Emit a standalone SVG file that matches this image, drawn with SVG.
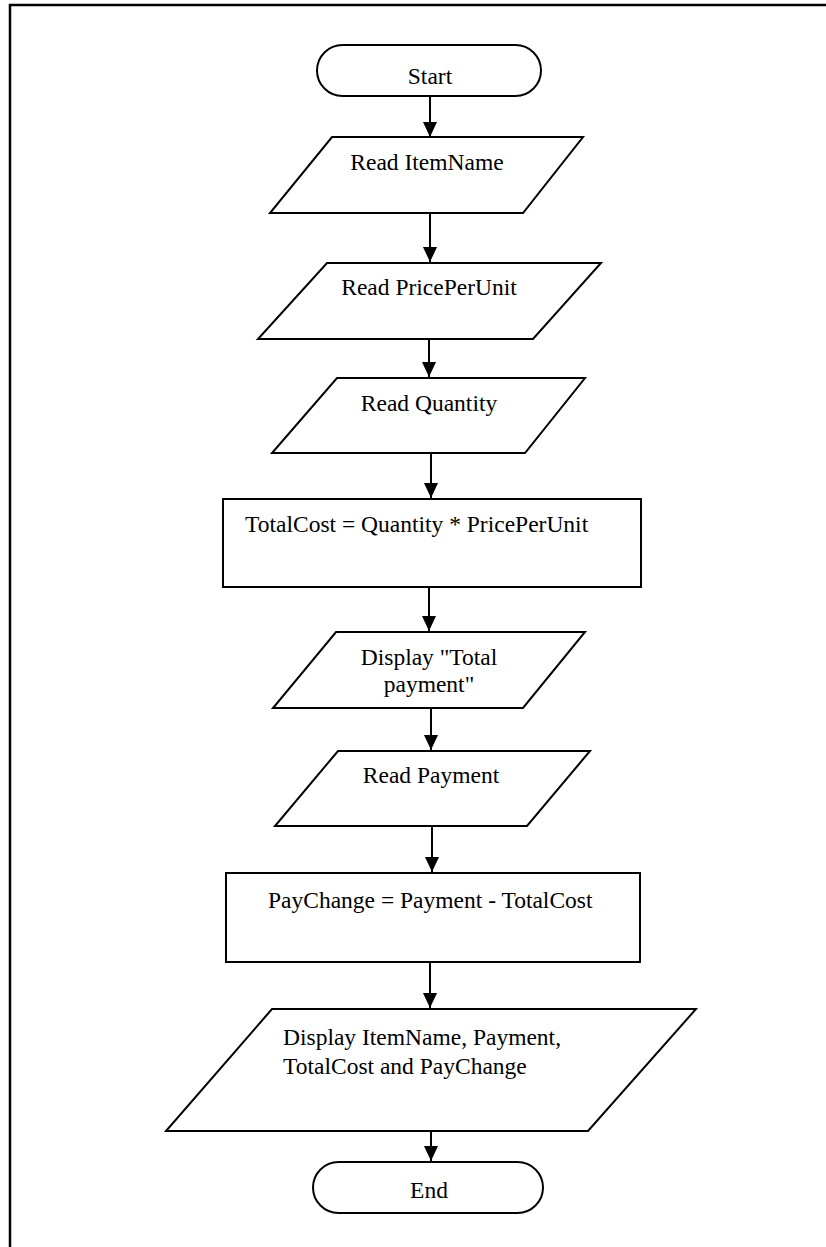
<svg xmlns="http://www.w3.org/2000/svg" width="826" height="1247" viewBox="0 0 826 1247">
<style>
.shape{fill:#fff;stroke:#000;stroke-width:2}
.lbl{font-family:"Liberation Serif","Times New Roman",serif;font-size:23.5px;fill:#000}
.mid{text-anchor:middle}
.conn line{stroke:#000;stroke-width:2}
</style>
<defs>
<marker id="ah" viewBox="0 0 15 14" refX="15" refY="7" markerWidth="15" markerHeight="14" markerUnits="userSpaceOnUse" orient="auto">
<path d="M0,0 L15,7 L0,14 z" fill="#000"/>
</marker>
</defs>
<rect x="0" y="0" width="826" height="1247" fill="#fff"/>
<path d="M10,1250 V5 H830" fill="none" stroke="#000" stroke-width="2.5"/>
<g id="start">
<rect class="shape" x="317" y="45" width="224" height="51" rx="25.5" ry="25.5"/>
<text class="lbl mid" x="430" y="84">Start</text>
</g>
<g id="read-itemname">
<polygon class="shape" points="332,137 583,137 523,213 270,213"/>
<text class="lbl mid" x="427" y="170">Read ItemName</text>
</g>
<g id="read-priceperunit">
<polygon class="shape" points="327,263 601,263 533,339 258,339"/>
<text class="lbl mid" x="429" y="295">Read PricePerUnit</text>
</g>
<g id="read-quantity">
<polygon class="shape" points="337,378 585,378 525,453 272,453"/>
<text class="lbl mid" x="429" y="411">Read Quantity</text>
</g>
<g id="calc-totalcost">
<rect class="shape" x="223" y="499" width="418" height="88"/>
<text class="lbl" x="245" y="532">TotalCost = Quantity *  PricePerUnit</text>
</g>
<g id="display-total">
<polygon class="shape" points="336,632 585,632 523,708 273,708"/>
<text class="lbl mid" x="429" y="665">Display "Total</text>
<text class="lbl mid" x="429" y="692">payment"</text>
</g>
<g id="read-payment">
<polygon class="shape" points="338,751 590,751 527,826 275,826"/>
<text class="lbl mid" x="431" y="783">Read Payment</text>
</g>
<g id="calc-paychange">
<rect class="shape" x="226" y="873" width="414" height="89"/>
<text class="lbl" x="268" y="908">PayChange = Payment - TotalCost</text>
</g>
<g id="display-all">
<polygon class="shape" points="272,1009 696,1009 588,1131 166,1131"/>
<text class="lbl" x="283" y="1045">Display ItemName, Payment,</text>
<text class="lbl" x="283" y="1074">TotalCost and PayChange</text>
</g>
<g id="end">
<rect class="shape" x="313" y="1162" width="230" height="51" rx="25.5" ry="25.5"/>
<text class="lbl mid" x="429" y="1198">End</text>
</g>
<g id="connectors" class="conn">
<line x1="430" y1="96" x2="430" y2="137" marker-end="url(#ah)"/>
<line x1="430" y1="213" x2="430" y2="262" marker-end="url(#ah)"/>
<line x1="429" y1="339" x2="429" y2="377" marker-end="url(#ah)"/>
<line x1="431" y1="453" x2="431" y2="498" marker-end="url(#ah)"/>
<line x1="429" y1="587" x2="429" y2="631" marker-end="url(#ah)"/>
<line x1="431" y1="708" x2="431" y2="750" marker-end="url(#ah)"/>
<line x1="432" y1="826" x2="432" y2="872" marker-end="url(#ah)"/>
<line x1="430" y1="962" x2="430" y2="1008" marker-end="url(#ah)"/>
<line x1="431" y1="1131" x2="431" y2="1161" marker-end="url(#ah)"/>
</g>
</svg>
